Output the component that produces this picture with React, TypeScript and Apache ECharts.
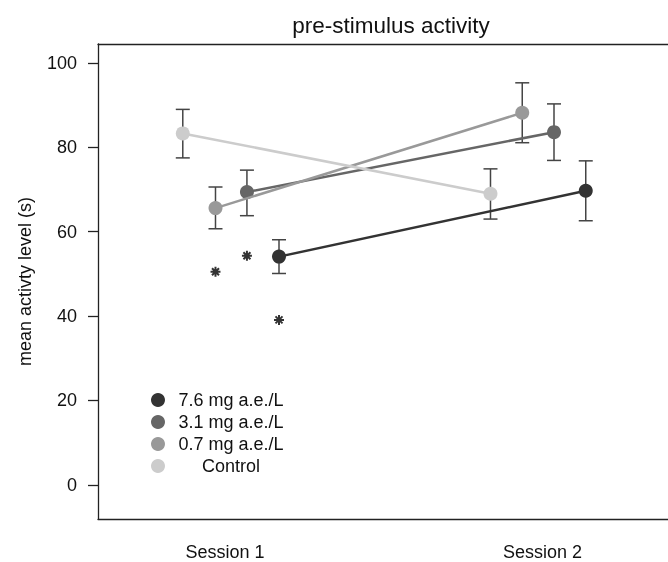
import React, { useEffect, useRef } from "react";
import * as echarts from "echarts";

const groups = ["7.6 mg a.e./L", "3.1 mg a.e./L", "0.7 mg a.e./L", "Control"];
const groupColors = ["#333333", "#666666", "#999999", "#cccccc"];
const sessionTicks = [1, 2];
const sessionLabels = ["Session 1", "Session 2"];
const xSession1 = [1.17, 1.069, 0.97, 0.867];
const xSession2 = [2.136, 2.036, 1.936, 1.836];
const meanS1 = [54.1, 69.4, 65.6, 83.3];
const meanS2 = [69.7, 83.6, 88.2, 69.0];
const hiS1 = [58.1, 74.6, 70.6, 89.0];
const loS1 = [50.1, 63.8, 60.7, 77.5];
const hiS2 = [76.8, 90.3, 95.3, 74.9];
const loS2 = [62.6, 76.9, 81.1, 63.0];
const starX = [0.97, 1.069, 1.17];
const starY = [50.5, 54.3, 39.1];
const yTicks = [0, 20, 40, 60, 80, 100];

const FONT = "'Liberation Sans', Arial, Helvetica, sans-serif";
const AXIS_LINE = { show: true, lineStyle: { color: "#222", width: 1.3 } };

export default function App() {
  const ref = useRef<HTMLDivElement>(null);
  useEffect(() => {
    if (!ref.current) return;
    const chart = echarts.init(ref.current, null, { renderer: "svg" });

    const lineSeries = groups.map((g, i) => ({
      name: g,
      type: "line",
      data: [
        [xSession1[i], meanS1[i]],
        [xSession2[i], meanS2[i]],
      ],
      symbol: "circle",
      symbolSize: 14,
      z: 3 + i,
      itemStyle: { color: groupColors[i] },
      lineStyle: { color: groupColors[i], width: 2.5 },
      emphasis: { disabled: true },
    }));

    const errData: number[][] = [];
    groups.forEach((_, i) => {
      errData.push([xSession1[i], loS1[i], hiS1[i]]);
      errData.push([xSession2[i], loS2[i], hiS2[i]]);
    });

    const option: any = {
      animation: false,
      textStyle: { fontFamily: FONT },
      title: {
        text: "pre-stimulus activity",
        left: 386,
        top: 9,
        textAlign: "center",
        textStyle: { fontFamily: FONT, fontSize: 22.5, fontWeight: "normal", color: "#111" },
      },
      grid: {
        left: 98,
        right: 0,
        top: 44,
        bottom: 43,
        show: false,
      },
      legend: {
        orient: "vertical",
        left: 146,
        top: 386,
        itemWidth: 14,
        itemHeight: 14,
        itemGap: 4,
        icon: "circle",
        data: groups,
        selectedMode: false,
        formatter: "{a|{name}}",
        textStyle: {
          fontFamily: FONT,
          fontSize: 18,
          color: "#111",
          rich: { a: { width: 122, align: "center", fontSize: 18, lineHeight: 18, fontFamily: FONT, color: "#111" } },
        },
      },
      xAxis: [
        {
          type: "value",
          min: 0.6,
          max: 2.395,
          position: "bottom",
          axisLine: { ...AXIS_LINE, onZero: false },
          axisTick: { show: false },
          splitLine: { show: false },
          axisLabel: {
            customValues: sessionTicks,
            margin: 24,
            fontSize: 18,
            fontFamily: FONT,
            color: "#111",
            formatter: (v: number) => {
              const k = sessionTicks.indexOf(Math.round(v));
              return k >= 0 ? sessionLabels[k] : "";
            },
          },
        },
        {
          type: "value",
          min: 0.6,
          max: 2.395,
          position: "top",
          axisLine: { ...AXIS_LINE, onZero: false },
          axisTick: { show: false },
          splitLine: { show: false },
          axisLabel: { show: false },
        },
      ],
      yAxis: {
        type: "value",
        min: -8.1,
        max: 104.5,
        name: "mean activty level (s)",
        nameLocation: "middle",
        nameGap: 64,
        nameTextStyle: { fontSize: 18, fontFamily: FONT, color: "#111" },
        axisLine: { ...AXIS_LINE, onZero: false },
        splitLine: { show: false },
        axisTick: { show: true, customValues: yTicks, length: 10, lineStyle: { color: "#222", width: 1.3 } },
        axisLabel: {
          customValues: yTicks,
          margin: 21,
          fontSize: 18,
          fontFamily: FONT,
          color: "#111",
        },
      },
      series: [
        {
          type: "custom",
          name: "errorbars",
          z: 1,
          data: errData,
          renderItem: (params: any, api: any) => {
            const x = api.value(0);
            const lo = api.coord([x, api.value(1)]);
            const hi = api.coord([x, api.value(2)]);
            const hw = 7;
            const style = { stroke: "#444", lineWidth: 1.5 };
            return {
              type: "group",
              children: [
                { type: "line", shape: { x1: lo[0], y1: lo[1], x2: hi[0], y2: hi[1] }, style },
                { type: "line", shape: { x1: lo[0] - hw, y1: lo[1], x2: lo[0] + hw, y2: lo[1] }, style },
                { type: "line", shape: { x1: hi[0] - hw, y1: hi[1], x2: hi[0] + hw, y2: hi[1] }, style },
              ],
            };
          },
        },
        ...lineSeries,
        {
          type: "scatter",
          name: "significance",
          z: 10,
          data: starX.map((x, i) => [x, starY[i]]),
          symbol: "path://M10 0 L10 20 M0 10 L20 10 M3 3 L17 17 M3 17 L17 3",
          symbolSize: 10,
          itemStyle: { color: "none", borderColor: "#000", borderWidth: 2 },
          emphasis: { disabled: true },
        },
      ],
    };
    chart.setOption(option);
    return () => chart.dispose();
  }, []);
  return <div ref={ref} style={{ position: "fixed", left: 0, top: 0, width: 668, height: 562 }} />;
}
